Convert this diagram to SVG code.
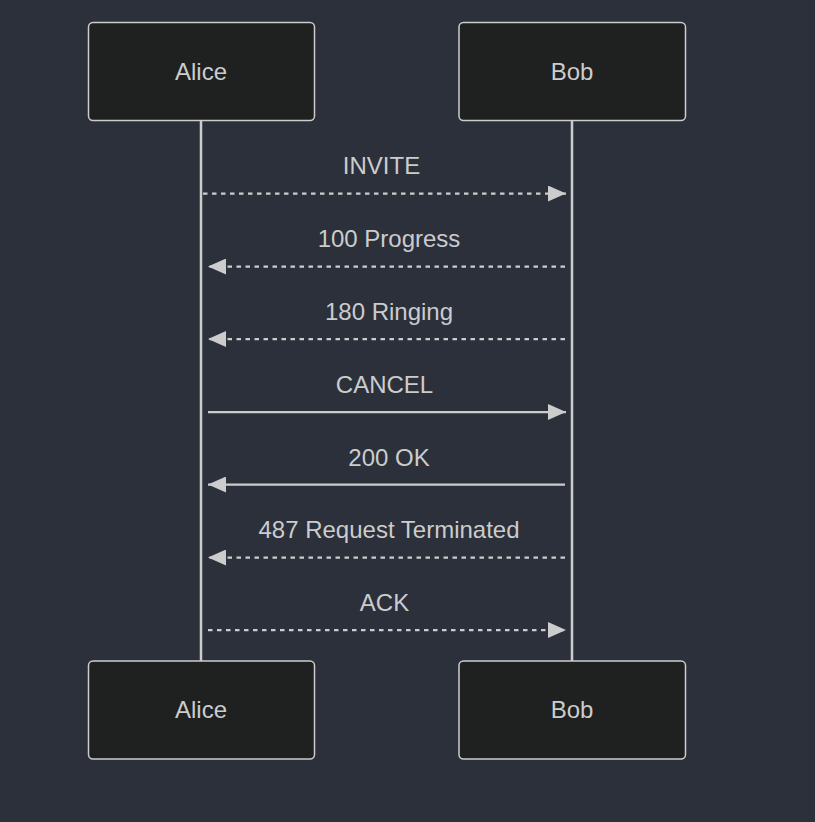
<svg xmlns="http://www.w3.org/2000/svg" width="815" height="822" viewBox="0 0 815 822">
<style>
.actor{fill:#1f2020;stroke:#cccccc;stroke-width:1.5}
.atext{font-family:"Liberation Sans",Arial,sans-serif;font-size:24px;fill:#cccccc;text-anchor:middle}
.life{stroke:#cccccc;stroke-width:2.5}
.msg{stroke:#cccccc;stroke-width:2.25;fill:none}
.dash{stroke-dasharray:4.5,4.5}
.mtext{font-family:"Liberation Sans",Arial,sans-serif;font-size:24px;fill:#cccccc;text-anchor:middle}
</style>
<defs>
<marker id="arrow" markerUnits="userSpaceOnUse" markerWidth="18" markerHeight="16" refX="18" refY="8" orient="auto" viewBox="0 0 18 16">
<path d="M0,0 L18,8 L0,16 z" fill="#cccccc" stroke="none"/>
</marker>
</defs>
<rect width="815" height="822" fill="#2b303b"/>
<g id="lifelines">
<line class="life" x1="201" y1="121" x2="201" y2="661"/>
<line class="life" x1="572" y1="121" x2="572" y2="661"/>
</g>
<g id="alice-top"><rect class="actor" x="88.5" y="22.5" width="226" height="98" rx="4.5"/><text class="atext" x="201" y="80">Alice</text></g>
<g id="bob-top"><rect class="actor" x="459" y="22.5" width="226.5" height="98" rx="4.5"/><text class="atext" x="572" y="80">Bob</text></g>
<g id="alice-bottom"><rect class="actor" x="88.5" y="661" width="226" height="98" rx="4.5"/><text class="atext" x="201" y="718">Alice</text></g>
<g id="bob-bottom"><rect class="actor" x="459" y="661" width="226.5" height="98" rx="4.5"/><text class="atext" x="572" y="718">Bob</text></g>
<g id="connectors">
<line class="msg dash" x1="203" y1="193.5" x2="566" y2="193.5" marker-end="url(#arrow)"/>
<line class="msg dash" x1="565" y1="266.5" x2="208" y2="266.5" marker-end="url(#arrow)"/>
<line class="msg dash" x1="565" y1="339" x2="208" y2="339" marker-end="url(#arrow)"/>
<line class="msg" x1="208" y1="412" x2="566" y2="412" marker-end="url(#arrow)"/>
<line class="msg" x1="565" y1="484.5" x2="208" y2="484.5" marker-end="url(#arrow)"/>
<line class="msg dash" x1="565" y1="557.5" x2="208" y2="557.5" marker-end="url(#arrow)"/>
<line class="msg dash" x1="208" y1="630" x2="566" y2="630" marker-end="url(#arrow)"/>
</g>
<g id="labels">
<text class="mtext" x="381.5" y="174">INVITE</text>
<text class="mtext" x="389" y="247">100 Progress</text>
<text class="mtext" x="389" y="320">180 Ringing</text>
<text class="mtext" x="384.5" y="393">CANCEL</text>
<text class="mtext" x="389" y="465.5">200 OK</text>
<text class="mtext" x="389" y="538">487 Request Terminated</text>
<text class="mtext" x="384.5" y="611">ACK</text>
</g>
</svg>
